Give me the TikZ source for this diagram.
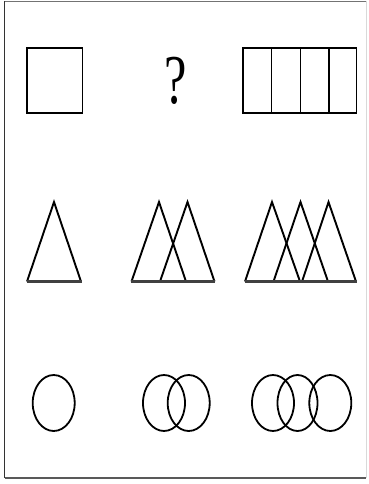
\documentclass[tikz,border=0pt]{standalone}
\usepackage{fontspec}
\setmainfont{Liberation Serif}
\begin{document}
\begin{tikzpicture}[x=1pt,y=-1pt,
  fig/.style={draw=black,line width=1.9pt,line join=miter},
  basel/.style={draw=black!75,line width=2.4pt},
  ov/.style={draw=black,line width=1.8pt}]
\useasboundingbox (0,0) rectangle (369,484);
% frame
\draw[black!55,line width=1.4pt] (366,1.5) -- (4.5,1.5);
\draw[black!80,line width=1.8pt] (4.5,1.5) -- (4.5,478);
\draw[black!65,line width=1.8pt] (4.5,478) -- (366,478);
\draw[black!15,line width=0.8pt] (366,1.5) -- (366,478);
% row 1
\draw[fig] (27,48) rectangle (82.5,113);
\node[font=\fontsize{70}{70}\selectfont,inner sep=0pt,xscale=0.72,anchor=base] (q) at (176,103.5) {?};
\draw[fig] (243,48) rectangle (356.5,113);
\draw[fig] (271.5,48) -- (271.5,113);
\draw[fig] (300.5,48) -- (300.5,113);
\draw[fig] (329,48) -- (329,113);
% row 2 triangles
\draw[fig] (27,281.5) -- (54,202) -- (81,281.5);
\draw[basel] (26.5,281.5) -- (81.5,281.5);
\draw[fig] (131.5,281.5) -- (159,202) -- (186,281.5);
\draw[fig] (160,281.5) -- (187.5,202) -- (214.5,281.5);
\draw[basel] (131,281.5) -- (215,281.5);
\draw[fig] (245,281.5) -- (272,202) -- (300,281.5);
\draw[fig] (273.5,281.5) -- (300.5,202) -- (328,281.5);
\draw[fig] (302,281.5) -- (328.5,202) -- (356,281.5);
\draw[basel] (244.5,281.5) -- (356.5,281.5);
% row 3 ellipses
\draw[ov] (53.7,403) ellipse [x radius=21,y radius=28];
\draw[ov] (164,403) ellipse [x radius=21,y radius=28];
\draw[ov] (188.7,403) ellipse [x radius=21,y radius=28];
\draw[ov] (273,403) ellipse [x radius=21,y radius=28];
\draw[ov] (297.5,403) ellipse [x radius=20,y radius=28];
\draw[ov] (330.3,403) ellipse [x radius=21,y radius=28];
\end{tikzpicture}
\end{document}
